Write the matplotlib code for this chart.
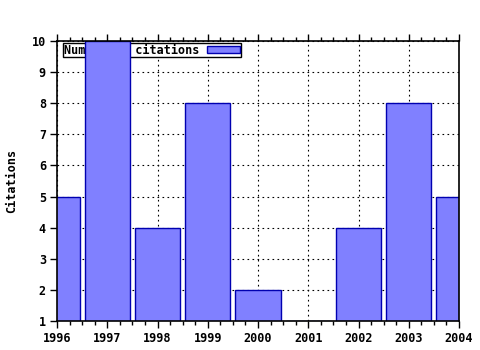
import matplotlib
matplotlib.use("Agg")
import matplotlib.pyplot as plt
from matplotlib.ticker import MultipleLocator

years = [1996, 1997, 1998, 1999, 2000, 2001, 2002, 2003, 2004]
citations = [5, 10, 4, 8, 2, 1, 4, 8, 5]
yticks = [1, 2, 3, 4, 5, 6, 7, 8, 9, 10]

plt.rcParams['font.family'] = ['DejaVu Sans Mono']
plt.rcParams['font.weight'] = 'bold'
plt.rcParams['font.size'] = 8.5

fig = plt.figure(figsize=(4.8, 3.5), dpi=100)
ax = fig.add_axes([57 / 480, 1 - 321 / 350, 402 / 480, 280 / 350])

ax.bar(years, citations, width=0.9, bottom=0, color='#8080ff',
       edgecolor='#0000b0', linewidth=1.0, zorder=3, label='Number of citations')

ax.set_xlim(1996, 2004)
ax.set_ylim(1, 10)
ax.set_xticks(years)
ax.set_xticklabels([str(y) for y in years], fontweight='bold')
ax.set_yticks(yticks)
ax.set_yticklabels([str(v) for v in yticks], fontweight='bold')
ax.xaxis.set_minor_locator(MultipleLocator(0.25))
ax.tick_params(axis='x', which='both', direction='out', top=True, bottom=True)
ax.tick_params(axis='x', which='major', length=5, width=1, pad=3)
ax.tick_params(axis='x', which='minor', length=3, width=1)
ax.tick_params(axis='y', which='major', direction='out', length=5, width=1, right=False, pad=3)
ax.grid(True, which='major', color='black', linestyle=(0, (1.5, 3)), linewidth=0.8, zorder=1)
ax.set_axisbelow(True)
for s in ax.spines.values():
    s.set_linewidth(1.2)
    s.set_zorder(5)

ax.set_ylabel('Citations', fontweight='bold', labelpad=10)

leg = ax.legend(loc='upper left', bbox_to_anchor=(6 / 402, 1 - 2 / 280), frameon=True, fancybox=False,
                edgecolor='black', framealpha=1, borderpad=0.05, handlelength=2.8,
                handleheight=0.6, handletextpad=0.7, borderaxespad=0.0, markerfirst=False)
leg.get_frame().set_linewidth(1.0)
leg.set_zorder(2)

fig.savefig('out.png', dpi=100)
